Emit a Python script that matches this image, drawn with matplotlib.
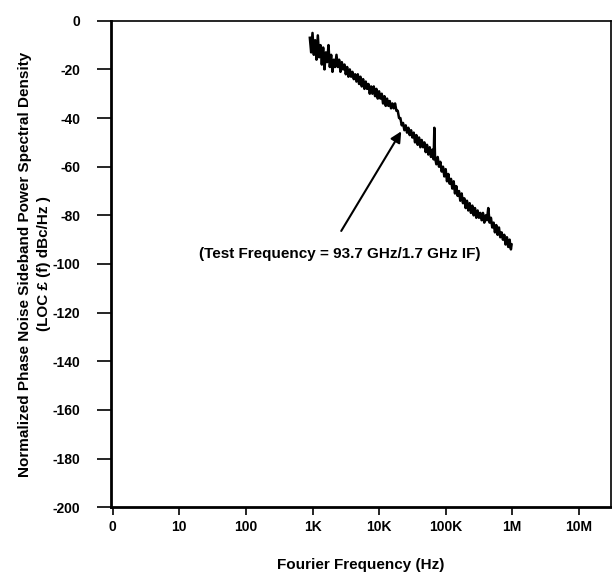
import numpy as np
import matplotlib
matplotlib.use("Agg")
import matplotlib.pyplot as plt

plt.rcParams['font.family'] = ['Liberation Sans', 'DejaVu Sans']
plt.rcParams['font.weight'] = 'bold'

# trace: log10(freq in Hz) and dBc/Hz
log_freq = [2.96, 2.98, 3.00, 3.02, 3.04, 3.06, 3.08, 3.10, 3.12, 3.14,
            3.16, 3.18, 3.20, 3.22, 3.24, 3.26, 3.28, 3.30, 3.32, 3.34,
            3.36, 3.38, 3.40, 3.42, 3.44, 3.46, 3.48, 3.50, 3.52, 3.54,
            3.56, 3.58, 3.60, 3.62, 3.64, 3.66, 3.68, 3.70, 3.72, 3.74,
            3.76, 3.78, 3.80, 3.82, 3.84, 3.86, 3.88, 3.90, 3.92, 3.94,
            3.96, 3.98, 4.00, 4.02, 4.04, 4.06, 4.08, 4.10, 4.12, 4.14,
            4.16, 4.18, 4.20, 4.22, 4.24, 4.26, 4.28, 4.30, 4.32, 4.34,
            4.36, 4.38, 4.40, 4.42, 4.44, 4.46, 4.48, 4.50, 4.52, 4.54,
            4.56, 4.58, 4.60, 4.62, 4.64, 4.66, 4.68, 4.70, 4.72, 4.74,
            4.76, 4.78, 4.80, 4.82, 4.83, 4.84, 4.86, 4.88, 4.90, 4.92,
            4.94, 4.96, 4.98, 5.00, 5.02, 5.04, 5.06, 5.08, 5.10, 5.12,
            5.14, 5.16, 5.18, 5.20, 5.22, 5.24, 5.26, 5.28, 5.30, 5.32,
            5.34, 5.36, 5.38, 5.40, 5.42, 5.44, 5.46, 5.48, 5.50, 5.52,
            5.54, 5.56, 5.58, 5.60, 5.62, 5.64, 5.66, 5.68, 5.70, 5.72,
            5.74, 5.76, 5.78, 5.80, 5.82, 5.84, 5.86, 5.88, 5.90, 5.92,
            5.94, 5.96, 5.98, 5.99]
noise_db = [-7, -13, -5, -14, -8, -16, -6, -15, -10, -18,
            -11, -20, -13, -17, -10, -19, -14, -21, -16, -19,
            -14, -19, -16, -21, -17, -20, -18, -22, -19, -23,
            -20, -23, -21, -24, -22, -25, -22, -26, -23, -27,
            -24, -28, -25, -28, -26, -30, -27, -30, -27, -31,
            -28, -32, -29, -32, -30, -34, -31, -35, -32, -35,
            -33, -36, -34, -36, -34, -37, -37, -40, -40, -43,
            -42, -45, -43, -46, -44, -47, -45, -48, -46, -50,
            -47, -51, -48, -52, -49, -52, -50, -54, -51, -55,
            -52, -56, -53, -57, -44, -56, -59, -56, -60, -58,
            -62, -60, -64, -61, -66, -63, -67, -65, -69, -66,
            -71, -68, -72, -70, -74, -71, -75, -73, -77, -74,
            -78, -75, -79, -76, -80, -77, -81, -78, -81, -79,
            -82, -79, -83, -80, -82, -77, -83, -81, -85, -83,
            -87, -84, -88, -85, -89, -87, -90, -88, -92, -89,
            -93, -90, -94, -92]

tick_pos = [1, 10, 100, 1e3, 1e4, 1e5, 1e6, 1e7]
tick_lbl = ['0', '10', '100', '1K', '10K', '100K', '1M', '10M']
y_ticks = list(range(0, -201, -20))

freq = 10 ** np.array(log_freq)

fig = plt.figure(figsize=(6.12, 5.77), dpi=100)
ax = fig.add_axes([0.181, 0.121, 0.817, 0.843])

ax.plot(freq, noise_db, color='black', lw=1.8)

ax.set_xscale('log')
ax.set_xlim(10 ** -0.03, 10 ** 7.48)
ax.set_ylim(-200, 0)
ax.set_xticks(tick_pos)
ax.set_xticklabels(tick_lbl)
ax.minorticks_off()
ax.set_yticks(y_ticks)
ax.set_yticklabels([str(v) for v in y_ticks])
ax.tick_params(axis='y', labelsize=10, width=1.2, length=10, pad=12, direction='out')
ax.tick_params(axis='x', labelsize=10, width=1.2, length=6, pad=3, direction='out')

for s in ['left', 'bottom']:
    ax.spines[s].set_linewidth(2)
for s in ['top', 'right']:
    ax.spines[s].set_linewidth(1.2)

ax.set_xlabel('Fourier Frequency (Hz)', fontsize=11, fontweight='bold')
ax.xaxis.set_label_coords(0.5, -0.105)
ax.set_ylabel('Normalized Phase Noise Sideband Power Spectral Density\n(LOC \u00a3 (f) dBc/Hz )',
              fontsize=11, fontweight='bold', linespacing=1.4)
ax.yaxis.set_label_coords(-0.12, 0.5)

ax.annotate('', xy=(10 ** 4.354, -44.5), xytext=(10 ** 3.41, -87.4),
            arrowprops=dict(arrowstyle='-|>', lw=1.5, color='black', mutation_scale=16))
ax.text(10 ** 3.41, -96, '(Test Frequency = 93.7 GHz/1.7 GHz IF)',
        ha='center', va='center', fontsize=11, fontweight='bold')

fig.savefig('out.png', dpi=100)
